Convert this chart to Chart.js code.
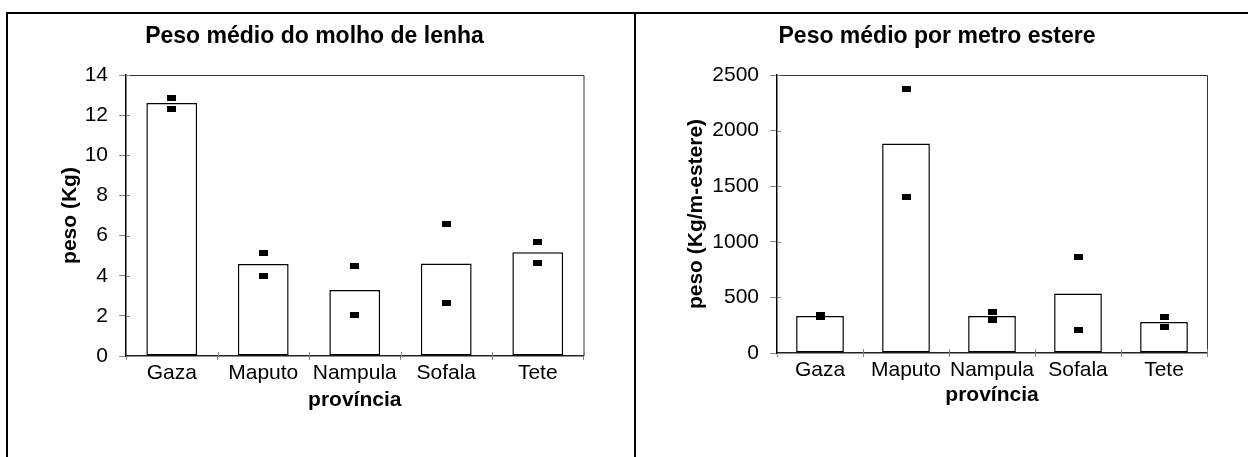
<!DOCTYPE html>
<html>
<head>
<meta charset="utf-8">
<script src="https://cdn.jsdelivr.net/npm/chart.js@4"></script>
<style>
  body { margin: 0; background: #fff; }
  #page { position: relative; width: 1248px; height: 457px; overflow: hidden; }
  .rule { position: absolute; background: #000; }
  canvas { position: absolute; top: 0; }
</style>
</head>
<body>
<div id="page">
  <div class="rule" style="left:6px; top:12px; width:1242px; height:2px;"></div>
  <div class="rule" style="left:6px; top:12px; width:2px; height:445px;"></div>
  <div class="rule" style="left:634px; top:12px; width:2px; height:445px;"></div>
  <canvas id="chartMolho" width="629" height="457" style="left:0px;"></canvas>
  <canvas id="chartEstere" width="602" height="457" style="left:636px;"></canvas>
</div>
<script>
// dados
const provincias = ['Gaza', 'Maputo', 'Nampula', 'Sofala', 'Tete'];

const molhoMedia = [12.6, 4.58, 3.29, 4.61, 5.17];
const molhoAmostra1 = [12.87, 5.15, 4.5, 6.58, 5.68];
const molhoAmostra2 = [12.32, 4.0, 2.04, 2.62, 4.62];
const molhoTicks = { max: 14, step: 1, labelEvery: 2 };

const estereMedia = [333, 1883, 333, 534, 279];
const estereAmostra1 = [340, 2371, 369, 863, 324];
const estereAmostra2 = [325, 1403, 300, 210, 234];
const estereTicks = { max: 2500, step: 250, labelEvery: 500 };

const FONT = "'Liberation Sans', Arial, sans-serif";

// small black rectangle used as the point marker
function makeMarker() {
    const c = document.createElement('canvas');
    c.width = 9;
    c.height = 6;
    const g = c.getContext('2d');
    g.fillStyle = '#000';
    g.fillRect(0, 0, 9, 6);
    return c;
}
const marker = makeMarker();

// frame around the plot area + ticks crossing the axes
const framePlugin = {
    id: 'frame',
    afterDraw(chart) {
        const { ctx, chartArea, scales } = chart;
        ctx.save();
        ctx.strokeStyle = '#333';
        ctx.lineWidth = 1;
        ctx.beginPath();
        ctx.moveTo(chartArea.left, chartArea.top + 0.5);
        ctx.lineTo(chartArea.right + 0.5, chartArea.top + 0.5);
        ctx.lineTo(chartArea.right + 0.5, chartArea.bottom);
        ctx.stroke();

        ctx.strokeStyle = '#888';
        ctx.beginPath();
        scales.y.ticks.forEach(t => {
            const py = Math.round(scales.y.getPixelForValue(t.value)) + 0.5;
            ctx.moveTo(chartArea.left, py);
            ctx.lineTo(chartArea.left + 4, py);
        });
        const n = scales.x.ticks.length;
        for (let i = 1; i <= n; i++) {
            const px = Math.round(scales.x.getPixelForValue(i - 0.5)) + 0.5;
            ctx.moveTo(px, chartArea.bottom - 4);
            ctx.lineTo(px, chartArea.bottom);
        }
        ctx.stroke();
        ctx.restore();
    }
};

function createChart(id, title, yTitle, media, amostra1, amostra2, tk, lay) {
    const ctx = document.getElementById(id).getContext('2d');
    return new Chart(ctx, {
        type: 'bar',
        data: {
            labels: provincias,
            datasets: [
                { type: 'line', data: amostra1, showLine: false, pointStyle: marker, order: 1 },
                { type: 'line', data: amostra2, showLine: false, pointStyle: marker, order: 1 },
                {
                    data: media, backgroundColor: '#fff', borderColor: '#000', borderWidth: 1.5,
                    borderSkipped: false, barPercentage: 0.555, categoryPercentage: 1, order: 2
                }
            ]
        },
        options: {
            responsive: false,
            animation: false,
            devicePixelRatio: 1,
            layout: { padding: 0 },
            plugins: {
                legend: { display: false },
                tooltip: { enabled: false },
                title: {
                    display: true, text: title, color: '#000',
                    font: { family: FONT, size: 23, weight: 'bold', lineHeight: 1.2 },
                    padding: { top: 23.2, bottom: 24.2 }
                }
            },
            scales: {
                x: {
                    grid: { offset: true, drawOnChartArea: false, tickLength: 4, color: '#888' },
                    border: { color: '#222', width: 1.5 },
                    ticks: {
                        color: '#000', padding: 1, autoSkip: false, minRotation: 0, maxRotation: 0,
                        font: { family: FONT, size: 21 }
                    },
                    title: {
                        display: true, text: 'província', color: '#000',
                        font: { family: FONT, size: 21, weight: 'bold', lineHeight: 1.2 },
                        padding: { top: 0, bottom: lay.xTitleBottom }
                    },
                    afterFit: s => { s.height = lay.xHeight; }
                },
                y: {
                    min: 0, max: tk.max,
                    grid: { drawOnChartArea: false, tickLength: 7, color: '#888' },
                    border: { color: '#000', width: 1.5 },
                    ticks: {
                        stepSize: tk.step, color: '#000', padding: 11,
                        font: { family: FONT, size: 21 },
                        callback: v => (v % tk.labelEvery === 0 ? v : '')
                    },
                    title: {
                        display: true, text: yTitle, color: '#000',
                        font: { family: FONT, size: 21, weight: 'bold', lineHeight: 1.2 },
                        padding: { top: lay.yTitleTop, bottom: 0 }
                    },
                    afterFit: s => { s.width = lay.yWidth; }
                },
                espaco: {
                    type: 'linear', position: 'right', display: true,
                    grid: { display: false }, border: { display: false },
                    ticks: { display: false },
                    afterFit: s => { s.width = lay.rightGap; }
                }
            }
        },
        plugins: [framePlugin]
    });
}

createChart('chartMolho', 'Peso médio do molho de lenha', 'peso (Kg)',
    molhoMedia, molhoAmostra1, molhoAmostra2, molhoTicks,
    { yWidth: 126, rightGap: 45.5, xHeight: 101, xTitleBottom: 44.4, yTitleTop: 57.4 });

createChart('chartEstere', 'Peso médio por metro estere', 'peso (Kg/m-estere)',
    estereMedia, estereAmostra1, estereAmostra2, estereTicks,
    { yWidth: 141, rightGap: 31, xHeight: 104, xTitleBottom: 49.4, yTitleTop: 47.4 });
</script>
</body>
</html>
